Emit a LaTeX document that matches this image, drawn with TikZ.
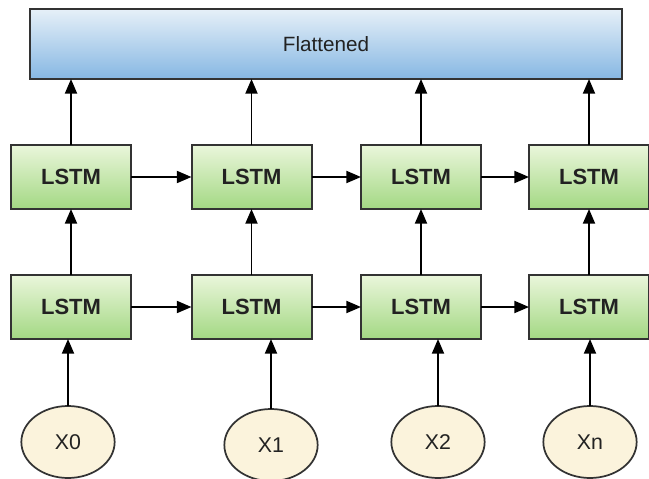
\documentclass[tikz,border=0pt]{standalone}
\usepackage{fontspec}
\setmainfont{Liberation Sans}
\usetikzlibrary{arrows.meta,shapes.geometric}

\definecolor{edgegray}{HTML}{333333}
\definecolor{flattop}{HTML}{E6F0F8}
\definecolor{flatbot}{HTML}{86B7E3}
\definecolor{celltop}{HTML}{EAF6DB}
\definecolor{cellbot}{HTML}{A3D883}
\definecolor{inputfill}{HTML}{FBF3DC}
\definecolor{textdark}{HTML}{222222}

\begin{document}
\begin{tikzpicture}[x=0.75pt,y=-0.75pt,
  every node/.style={inner sep=0pt, outer sep=0pt, text=textdark},
  flatbox/.style={draw=edgegray, line width=1.5pt, top color=flattop, bottom color=flatbot,
    minimum width=444pt, minimum height=52.5pt, font=\fontsize{15.5}{18}\selectfont},
  cell/.style={draw=edgegray, line width=1.5pt, top color=celltop, bottom color=cellbot,
    minimum width=90pt, minimum height=48pt, font=\bfseries\fontsize{16.5}{19}\selectfont},
  inputnode/.style={draw=edgegray, line width=1.3pt, fill=inputfill, ellipse,
    minimum width=70pt, minimum height=54pt, font=\fontsize{16}{19}\selectfont},
  link/.style={draw=black, line width=1.4pt, -{Triangle[length=11pt,width=9pt]}}
]
\useasboundingbox (0,0) rectangle (649,478);

% output layer
\node[flatbox] (fl) at (326,44) {Flattened};

% upper LSTM row
\node[cell] (t1) at (71,177) {LSTM};
\node[cell] (t2) at (251.5,177) {LSTM};
\node[cell] (t3) at (421,177) {LSTM};
\node[cell] (t4) at (589,177) {LSTM};

% lower LSTM row
\node[cell] (b1) at (71,307) {LSTM};
\node[cell] (b2) at (251.5,307) {LSTM};
\node[cell] (b3) at (421,307) {LSTM};
\node[cell] (b4) at (589,307) {LSTM};

% inputs
\node[inputnode] (x0) at (68,442) {X0};
\node[inputnode] (x1) at (271,445) {X1};
\node[inputnode] (x2) at (438,442) {X2};
\node[inputnode] (xn) at (590,442) {Xn};

% recurrent connections
\draw[link] (t1.east) -- (t2.west);
\draw[link] (t2.east) -- (t3.west);
\draw[link] (t3.east) -- (t4.west);
\draw[link] (b1.east) -- (b2.west);
\draw[link] (b2.east) -- (b3.west);
\draw[link] (b3.east) -- (b4.west);

% stacking connections
\foreach \i in {1,2,3,4}{
  \draw[link] (b\i.north) -- (t\i.south);
  \draw[link] (t\i.north) -- (t\i.north |- fl.south);
}

% inputs into the lower row
\draw[link] (x0.north) -- (x0.north |- b1.south);
\draw[link] (x1.north) -- (x1.north |- b2.south);
\draw[link] (x2.north) -- (x2.north |- b3.south);
\draw[link] (xn.north) -- (xn.north |- b4.south);
\end{tikzpicture}
\end{document}
